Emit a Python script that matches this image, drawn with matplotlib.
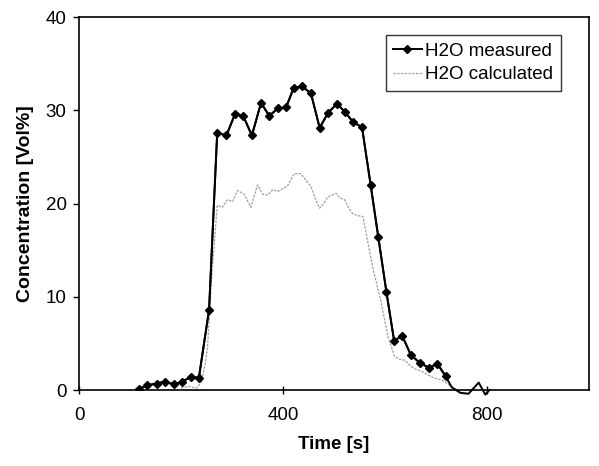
import matplotlib
matplotlib.use('Agg')
import matplotlib.pyplot as plt

# H2O measured (diamond markers)
t_meas = [117, 133, 152, 168, 186, 202, 219, 235, 255, 271, 289, 306, 322, 339, 357,
          373, 390, 406, 421, 437, 455, 472, 488, 506, 522, 538, 555, 572, 587, 603,
          618, 634, 651, 669, 686, 703, 719]
c_meas = [0.1, 0.5, 0.7, 0.9, 0.6, 0.9, 1.4, 1.3, 8.6, 27.6, 27.3, 29.6, 29.4, 27.3, 30.8,
          29.4, 30.2, 30.3, 32.4, 32.6, 31.8, 28.1, 29.7, 30.7, 29.8, 28.7, 28.2, 22.0, 16.4, 10.5,
          5.3, 5.8, 3.75, 2.9, 2.4, 2.8, 1.5]
# tail of measured line after the last marker
t_meas_tail = [731, 748, 764, 784, 797, 805]
c_meas_tail = [0.3, -0.3, -0.4, 0.8, -0.5, 0.0]

# H2O calculated
t_calc = [200, 215, 230, 240, 248, 252, 260, 271, 281, 291, 301, 311, 324, 337, 350,
          360, 370, 380, 390, 400, 409, 422, 435, 445, 455, 465, 472, 480, 488, 496,
          504, 512, 521, 529, 537, 547, 557, 567, 577, 583, 593, 606, 619, 629, 639,
          652, 662, 672, 682, 692, 702, 711, 720, 728, 745, 764, 775, 784, 795, 805]
c_calc = [0.2, 0.4, 0.2, 0.8, 3.0, 4.6, 12.0, 19.8, 19.6, 20.4, 20.2, 21.4, 21.0, 19.6, 22.0,
          21.0, 20.9, 21.5, 21.3, 21.6, 21.9, 23.2, 23.2, 22.5, 21.8, 20.3, 19.5, 20.0, 20.7, 20.9,
          21.1, 20.6, 20.4, 19.5, 18.9, 18.7, 18.6, 15.7, 12.9, 11.6, 9.3, 5.7, 3.6, 3.3, 3.2,
          2.5, 2.2, 2.0, 1.7, 1.4, 1.2, 1.1, 0.8, 0.5, -0.2, -0.4, 0.2, 0.8, -0.3, 0.0]

plt.rcParams['font.family'] = ['Liberation Sans', 'DejaVu Sans']

fig = plt.figure(figsize=(5.99, 4.66), dpi=100)
ax = fig.add_axes([0.132, 0.163, 0.851, 0.8005])

ax.plot(t_calc, c_calc, color='#a0a0a0', linewidth=0.9, linestyle=(0, (2, 1)),
        label='H2O calculated', clip_on=False, zorder=2)
ax.plot(t_meas + t_meas_tail, c_meas + c_meas_tail, color='black', linewidth=1.4,
        clip_on=False, zorder=3)
ax.plot(t_meas, c_meas, color='black', linewidth=1.4, marker='D', markersize=4.5,
        label='H2O measured', zorder=4)

ax.set_xlim(0, 1000)
ax.set_ylim(0, 40)
ax.set_xticks([0, 400, 800])
ax.set_yticks([0, 10, 20, 30, 40])
ax.tick_params(axis='x', direction='inout', length=6, width=1, labelsize=13.5, pad=9)
ax.tick_params(axis='y', direction='out', length=4, width=1, labelsize=13.5, pad=5)
for s in ax.spines.values():
    s.set_linewidth(1.2)

ax.set_xlabel('Time [s]', fontweight='bold', fontsize=13.5, labelpad=9)
ax.set_ylabel('Concentration [Vol%]', fontweight='bold', fontsize=14, labelpad=8)

handles, labels = ax.get_legend_handles_labels()
leg = ax.legend(handles[::-1], labels[::-1], loc='upper right',
                bbox_to_anchor=(0.945, 0.952), fontsize=13.5, frameon=True,
                fancybox=False, edgecolor='black', handlelength=1.5,
                handletextpad=0.2, borderpad=0.4, labelspacing=0.35, borderaxespad=0)
leg.get_frame().set_linewidth(1.0)

fig.savefig('out.png', dpi=100)
